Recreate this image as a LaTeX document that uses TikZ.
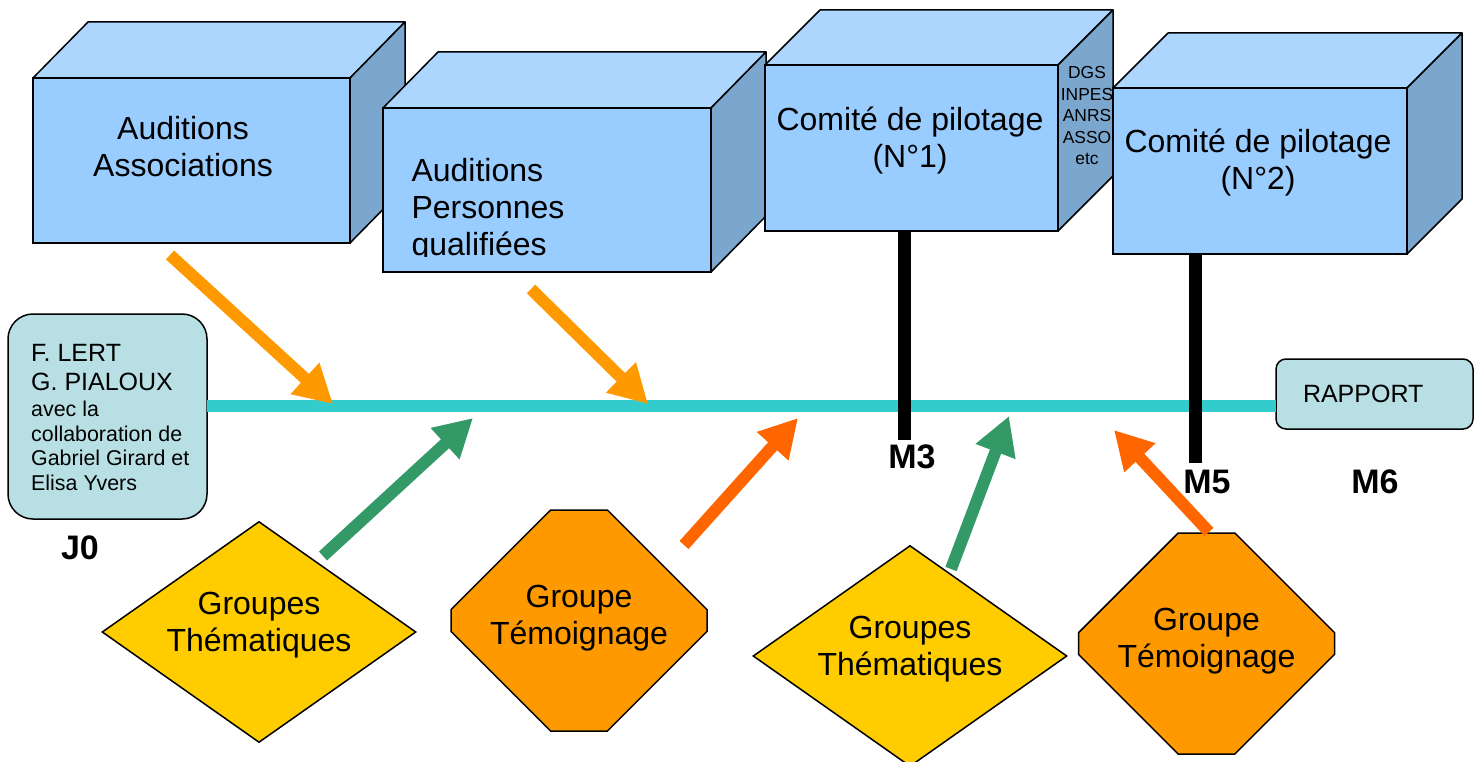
\documentclass[tikz,border=0pt]{standalone}
\usepackage{fontspec}
\setmainfont{Liberation Sans}
\usepackage{tikz}
\usetikzlibrary{positioning}
\usetikzlibrary{arrows.meta}
\usetikzlibrary{shapes.geometric}
\usetikzlibrary{shapes.misc}
\definecolor{cubefront}{HTML}{99CCFF}
\definecolor{cubetop}{HTML}{ADD6FF}
\definecolor{cubeside}{HTML}{7BA6CE}
\definecolor{boxblue}{HTML}{B8E0E4}
\definecolor{linecyan}{HTML}{33CCCC}
\definecolor{darkyellow}{HTML}{FFCC00}
\definecolor{lightorange}{HTML}{FF9900}
\definecolor{darkorange}{HTML}{FF6600}
\definecolor{darkgreen}{HTML}{339966}
\tikzset {
  % faces of the cubes
  front/.style={draw, fill=cubefront, line width=1.5pt, inner sep=0pt, outer sep=0pt},
  topface/.style={draw, fill=cubetop, line width=1.5pt, line join=round},
  sideface/.style={draw, fill=cubeside, line width=1.5pt, line join=round},
  % texts
  bigtext/.style={font=\fontsize{32}{37}\selectfont, align=center},
  sidetext/.style={font=\fontsize{17.4}{21.5}\selectfont, align=center},
  mlabel/.style={font=\bfseries\fontsize{34}{40}\selectfont},
  % rounded boxes at both ends of the time line
  infobox/.style={draw, fill=boxblue, line width=1.5pt, inner sep=0pt, outer sep=0pt},
  % groups
  theme/.style={diamond, draw, fill=darkyellow, line width=1.5pt, aspect=1.42, inner sep=0pt,
    minimum width=314pt, minimum height=221pt, bigtext, text depth=20pt},
  witness/.style={chamfered rectangle, draw, fill=lightorange, line width=1.5pt, inner sep=0pt,
    minimum width=256pt, minimum height=221pt,
    chamfered rectangle xsep=64pt, chamfered rectangle ysep=64pt, bigtext, text depth=12pt},
  % lines
  timeline/.style={linecyan, line width=12pt},
  bar/.style={black, line width=13pt},
  feed/.style={line width=12pt, -{Triangle[length=38pt, width=40pt]}},
}

\begin{document}
\begin{tikzpicture}[x=1pt, y=-1pt]
  \useasboundingbox (0,0) rectangle (1482,762);

  % cubes
  \node[front, minimum width=317pt, minimum height=165pt] (c1) at (191.5,160.5) {};
  \filldraw[topface] (c1.north west) -- ++(55,-56) -- ++(317,0) -- (c1.north east) -- cycle;
  \filldraw[sideface] (c1.north east) -- ++(55,-56) -- ++(0,165) -- (c1.south east) -- cycle;
  \node[bigtext] (t1) at (183,147) {Auditions\\Associations};

  \node[front, minimum width=328pt, minimum height=164pt] (c2) at (547,190) {};
  \filldraw[topface] (c2.north west) -- ++(55,-56) -- ++(328,0) -- (c2.north east) -- cycle;
  \filldraw[sideface] (c2.north east) -- ++(55,-56) -- ++(0,164) -- (c2.south east) -- cycle;
  \begin{scope}
    \clip (383,108) rectangle (711,256);
    \node[bigtext, align=left, anchor=west] (t2) at (408,210) {Auditions\\Personnes\\qualifiées};
  \end{scope}

  \node[front, minimum width=293pt, minimum height=166pt] (c3) at (911.5,148) {};
  \filldraw[topface] (c3.north west) -- ++(55,-55) -- ++(293,0) -- (c3.north east) -- cycle;
  \filldraw[sideface] (c3.north east) -- ++(55,-55) -- ++(0,166) -- (c3.south east) -- cycle;
  \node[bigtext] (t3) at (910,141) {Comité de pilotage\\(N°1)};
  \node[sidetext] (s3) at (1087,116) {DGS\\INPES\\ANRS\\ASSO\\etc};

  \node[front, minimum width=294pt, minimum height=166pt] (c4) at (1260,171) {};
  \filldraw[topface] (c4.north west) -- ++(55,-55) -- ++(294,0) -- (c4.north east) -- cycle;
  \filldraw[sideface] (c4.north east) -- ++(55,-55) -- ++(0,166) -- (c4.south east) -- cycle;
  \node[bigtext] (t4) at (1258,163) {Comité de pilotage\\(N°2)};

  % ends of the time line
  \node[infobox, minimum width=199pt, minimum height=205pt, rounded corners=25pt] (lert) at (107.5,416.5) {};
  \node[anchor=west, align=left, inner sep=0pt, font=\fontsize{25}{29}\selectfont] (lt1) at (31,367.5)
    {F. LERT\\G. PIALOUX};
  \node[anchor=west, align=left, inner sep=0pt, font=\fontsize{21.4}{24.6}\selectfont] (lt2) at (31,446)
    {avec la\\collaboration de\\Gabriel Girard et\\Elisa Yvers};
  \node[infobox, minimum width=197pt, minimum height=70pt, rounded corners=10pt,
    text width=143pt, align=left, font=\fontsize{25}{29}\selectfont] (rapport) at (1374.5,394) {RAPPORT};

  \coordinate (tl) at (207,405.5);
  \draw[timeline] (tl) -- (tl -| rapport.west);

  % milestones
  \coordinate (m3) at (904,440);
  \coordinate (m5) at (1195,463);
  \draw[bar] (m3 |- c3.south) -- (m3);
  \draw[bar] (m5 |- c4.south) -- (m5);
  \node[mlabel] (j0l) at (80,548) {J0};
  \node[mlabel] (m3l) at (912,457) {M3};
  \node[mlabel] (m5l) at (1207,482) {M5};
  \node[mlabel] (m6l) at (1375,482) {M6};

  % groups
  \node[theme] (gt1) at (259,632) {Groupes\\Thématiques};
  \node[witness] (gw1) at (579,620.5) {Groupe\\Témoignage};
  \node[theme] (gt2) at (910,656) {Groupes\\Thématiques};
  \node[witness] (gw2) at (1206.5,643.5) {Groupe\\Témoignage};

  % arrows onto the time line
  \coordinate (a1) at (170,255);  \coordinate (b1) at (333,404);
  \coordinate (a2) at (531,289);  \coordinate (b2) at (648,404);
  \coordinate (a3) at (323,556);  \coordinate (b3) at (473,418);
  \coordinate (a4) at (684,545);  \coordinate (b4) at (798,418);
  \coordinate (a5) at (951,569);  \coordinate (b5) at (1009,416);
  \coordinate (a6) at (1209,532); \coordinate (b6) at (1114,430);

  \draw[feed, lightorange] (a1) -- (b1);
  \draw[feed, lightorange] (a2) -- (b2);
  \draw[feed, darkgreen] (a3) -- (b3);
  \draw[feed, darkorange] (a4) -- (b4);
  \draw[feed, darkgreen] (a5) -- (b5);
  \draw[feed, darkorange] (a6) -- (b6);
\end{tikzpicture}
\end{document}
